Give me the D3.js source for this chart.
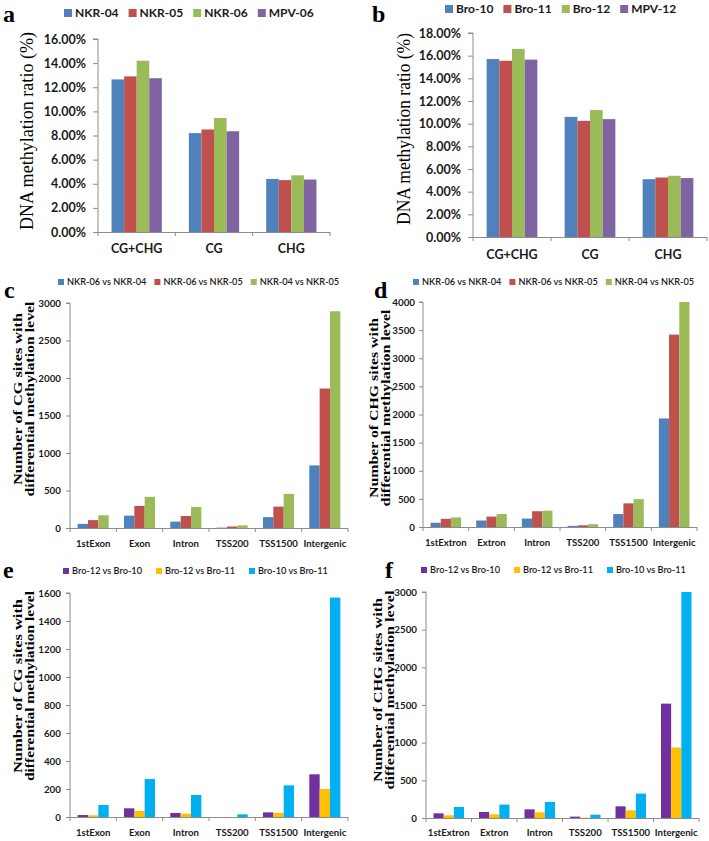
<!DOCTYPE html>
<html lang="en">
  <head>
    <meta charset="UTF-8" />
    <title>DNA methylation panels</title>
    <script src="https://cdn.jsdelivr.net/npm/d3@7"></script>
    <style>
      body { margin: 0; background: #fff; }
      text { font-family: Lato, "Open Sans", sans-serif; }
      .serif { font-family: "Liberation Serif", "DejaVu Serif", serif; }
    </style>
  </head>
  <body>
    <script>
      // panels a/b: methylation ratio (%)
      const ratioCats = ["CG+CHG", "CG", "CHG"];
      const nkrNames = ["NKR-04", "NKR-05", "NKR-06", "MPV-06"];
      const nkr04 = [12.65, 8.2, 4.4];
      const nkr05 = [12.9, 8.5, 4.3];
      const nkr06 = [14.2, 9.45, 4.7];
      const mpv06 = [12.75, 8.35, 4.35];
      const broNames = ["Bro-10", "Bro-11", "Bro-12", "MPV-12"];
      const bro10 = [15.7, 10.6, 5.1];
      const bro11 = [15.55, 10.25, 5.25];
      const bro12 = [16.6, 11.2, 5.4];
      const mpv12 = [15.65, 10.4, 5.2];

      // panels c-f: number of differentially methylated sites
      const regionsCG = ["1stExon", "Exon", "Intron", "TSS200", "TSS1500", "Intergenic"];
      const regionsCHG = ["1stExtron", "Extron", "Intron", "TSS200", "TSS1500", "Intergenic"];
      const nkrPairs = ["NKR-06 vs NKR-04", "NKR-06 vs NKR-05", "NKR-04 vs NKR-05"];
      const broPairs = ["Bro-12 vs Bro-10", "Bro-12 vs Bro-11", "Bro-10 vs Bro-11"];
      const cgNkr0604 = [55, 165, 85, 5, 145, 835];
      const cgNkr0605 = [105, 295, 160, 20, 285, 1860];
      const cgNkr0405 = [170, 415, 280, 35, 455, 2890];
      const chgNkr0604 = [75, 115, 150, 20, 230, 1930];
      const chgNkr0605 = [145, 185, 280, 30, 420, 3420];
      const chgNkr0405 = [170, 230, 290, 50, 495, 4000];
      const cgBro1210 = [14, 62, 29, 0, 33, 305];
      const cgBro1211 = [12, 43, 24, 0, 29, 200];
      const cgBro1011 = [86, 271, 157, 19, 226, 1567];
      const chgBro1210 = [62, 80, 115, 18, 155, 1518];
      const chgBro1211 = [36, 49, 75, 4, 102, 936];
      const chgBro1011 = [146, 178, 213, 44, 324, 3000];

      const pctTicks = d3.range(0, 18.01, 2);
      const officeColors = ["#4f81bd", "#c0504d", "#9bbb59", "#8064a2"];
      const broColors = ["#7030a0", "#ffc000", "#00b0f0"];

      const svg = d3.select("body").append("svg")
        .attr("width", 709).attr("height", 841);

      const cgTitle = ["Number of CG sites with", "differential methylation level"];
      const chgTitle = ["Number of CHG sites with", "differential methylation level"];

      const panels = [
        { letter: "a", lx: 3, ly: 22, x0: 98, x1: 330, yTop: 39, yBot: 232, max: 16,
          cats: ratioCats, names: nkrNames, values: [nkr04, nkr05, nkr06, mpv06], colors: officeColors,
          fmt: d => d.toFixed(2) + "%", ticks: pctTicks.filter(t => t <= 16),
          legX: 64, legY: 13, legFont: 12, legBold: true, legSq: 8, legGap: 10,
          title: ["DNA methylation ratio (%)"], titleX: [33], titleCy: 131, titleLen: [198], titleSize: 18, titleBold: false,
          tickFont: 12.5, tickLen: 5, tickPad: 7, catFont: 12.5, catY: 249, padIn: 0.35 },
        { letter: "b", lx: 372, ly: 22, x0: 473, x1: 707, yTop: 33, yBot: 237, max: 18,
          cats: ratioCats, names: broNames, values: [bro10, bro11, bro12, mpv12], colors: officeColors,
          fmt: d => d.toFixed(2) + "%", ticks: pctTicks,
          legX: 445, legY: 9, legFont: 12, legBold: true, legSq: 8, legGap: 10,
          title: ["DNA methylation ratio (%)"], titleX: [410], titleCy: 129, titleLen: [192], titleSize: 18, titleBold: false,
          tickFont: 12.5, tickLen: 5, tickPad: 7, catFont: 12.5, catY: 255, padIn: 0.35 },
        { letter: "c", lx: 4, ly: 298, x0: 70, x1: 348, yTop: 303, yBot: 528, max: 3000,
          cats: regionsCG, names: nkrPairs, values: [cgNkr0604, cgNkr0605, cgNkr0405], colors: officeColors,
          fmt: d3.format("d"), ticks: d3.range(0, 3001, 500),
          legX: 58, legY: 282, legFont: 9.2, legBold: false, legSq: 6, legGap: 8,
          title: cgTitle, titleX: [22, 34], titleCy: 399, titleLen: [172, 195], titleSize: 13, titleBold: true,
          tickFont: 9.8, tickLen: 4, tickPad: 5, catFont: 9.6, catY: 544, padIn: 0.33 },
        { letter: "d", lx: 374, ly: 298, x0: 423, x1: 697, yTop: 302, yBot: 527, max: 4000,
          cats: regionsCHG, names: nkrPairs, values: [chgNkr0604, chgNkr0605, chgNkr0405], colors: officeColors,
          fmt: d3.format("d"), ticks: d3.range(0, 4001, 500),
          legX: 413, legY: 282, legFont: 9.2, legBold: false, legSq: 6, legGap: 8,
          title: chgTitle, titleX: [378, 390], titleCy: 408, titleLen: [180, 197], titleSize: 13, titleBold: true,
          tickFont: 9.8, tickLen: 4, tickPad: 4, catFont: 9.6, catY: 543, padIn: 0.33 },
        { letter: "e", lx: 3, ly: 578, x0: 70, x1: 348, yTop: 593, yBot: 817, max: 1600,
          cats: regionsCG, names: broPairs, values: [cgBro1210, cgBro1211, cgBro1011], colors: broColors,
          fmt: d3.format("d"), ticks: d3.range(0, 1601, 200),
          legX: 63, legY: 571, legFont: 9.2, legBold: false, legSq: 6, legGap: 14,
          title: cgTitle, titleX: [22, 34], titleCy: 686, titleLen: [174, 190], titleSize: 13, titleBold: true,
          tickFont: 9.8, tickLen: 4, tickPad: 5, catFont: 9.6, catY: 833, padIn: 0.33 },
        { letter: "f", lx: 385, ly: 578, x0: 426, x1: 699, yTop: 592, yBot: 818, max: 3000,
          cats: regionsCHG, names: broPairs, values: [chgBro1210, chgBro1211, chgBro1011], colors: broColors,
          fmt: d3.format("d"), ticks: d3.range(0, 3001, 500),
          legX: 421, legY: 570, legFont: 9.2, legBold: false, legSq: 6, legGap: 14,
          title: chgTitle, titleX: [382, 394], titleCy: 690, titleLen: [184, 199], titleSize: 13, titleBold: true,
          tickFont: 9.8, tickLen: 4, tickPad: 5, catFont: 9.6, catY: 833, padIn: 0.33 }
      ];

      panels.forEach(drawPanel);

      function drawPanel(p) {
        const g = svg.append("g");
        const x = d3.scaleBand().domain(p.cats).range([p.x0, p.x1])
          .paddingInner(p.padIn).paddingOuter(p.padIn / 2);
        const xs = d3.scaleBand().domain(d3.range(p.names.length)).range([0, x.bandwidth()]);
        const y = d3.scaleLinear().domain([0, p.max]).range([p.yBot, p.yTop]);

        // bars
        p.values.forEach((vals, si) => {
          g.append("g").selectAll("rect")
            .data(vals)
            .enter()
            .append("rect")
            .attr("x", (d, i) => x(p.cats[i]) + xs(si))
            .attr("width", xs.bandwidth())
            .attr("y", d => y(d))
            .attr("height", d => y(0) - y(d))
            .attr("fill", p.colors[si]);
        });

        // y axis
        const ya = g.append("g")
          .attr("transform", "translate(" + p.x0 + ",0)")
          .call(d3.axisLeft(y).tickValues(p.ticks).tickFormat(p.fmt).tickSize(p.tickLen).tickPadding(p.tickPad));
        ya.select(".domain").attr("stroke", "#8c8c8c").attr("d", "M-" + p.tickLen + "," + y(p.max) + "H0V" + y(0));
        ya.selectAll(".tick line").attr("stroke", "#8c8c8c");
        ya.selectAll(".tick text").attr("fill", "#1a1a1a")
          .style("font-size", p.tickFont + "px").style("font-weight", 700);

        // x axis: line, boundary ticks, labels
        const bounds = d3.scaleLinear().domain([0, p.cats.length]).range([p.x0, p.x1]);
        g.append("line").attr("x1", p.x0).attr("x2", p.x1)
          .attr("y1", p.yBot + 0.5).attr("y2", p.yBot + 0.5).attr("stroke", "#8c8c8c");
        g.append("g").selectAll("line")
          .data(d3.range(p.cats.length + 1))
          .enter()
          .append("line")
          .attr("x1", d => bounds(d)).attr("x2", d => bounds(d))
          .attr("y1", p.yBot).attr("y2", p.yBot + 4)
          .attr("stroke", "#8c8c8c");
        g.append("g").selectAll("text")
          .data(p.cats)
          .enter()
          .append("text")
          .attr("x", d => x(d) + x.bandwidth() / 2)
          .attr("y", p.catY)
          .attr("dy", "0.35em")
          .attr("text-anchor", "middle")
          .attr("fill", "#1a1a1a")
          .style("font-size", p.catFont + "px")
          .style("font-weight", 700)
          .text(d => d);

        // y title (titleX is the baseline position of each rotated line)
        p.title.forEach((t, i) => {
          g.append("text")
            .attr("class", "serif")
            .attr("transform", "translate(" + p.titleX[i] + "," + p.titleCy + ") rotate(-90)")
            .attr("text-anchor", "middle")
            .attr("textLength", p.titleLen[i])
            .attr("lengthAdjust", "spacingAndGlyphs")
            .style("font-size", p.titleSize + "px")
            .style("font-weight", p.titleBold ? 700 : 400)
            .text(t);
        });

        // legend
        let lx = p.legX;
        p.names.forEach((n, i) => {
          g.append("rect").attr("x", lx).attr("y", p.legY - p.legSq / 2)
            .attr("width", p.legSq).attr("height", p.legSq).attr("fill", p.colors[i]);
          const t = g.append("text")
            .attr("x", lx + p.legSq + 3).attr("y", p.legY).attr("dy", "0.35em")
            .attr("fill", "#1a1a1a")
            .style("font-size", p.legFont + "px")
            .style("font-weight", p.legBold ? 700 : 600)
            .text(n);
          lx += p.legSq + 3 + t.node().getComputedTextLength() + p.legGap;
        });

        // panel letter
        g.append("text").attr("class", "serif")
          .attr("x", p.lx).attr("y", p.ly)
          .style("font-size", "24px").style("font-weight", 700)
          .text(p.letter);
      }
    </script>
  </body>
</html>
